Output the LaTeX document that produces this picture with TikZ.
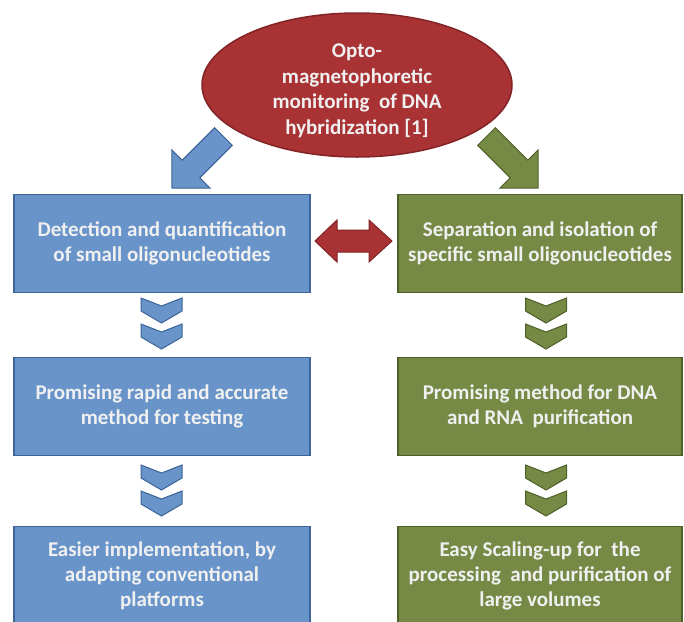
\documentclass[tikz,border=0pt]{standalone}
\usepackage{fontspec}
\setmainfont{Carlito}
\usetikzlibrary{shapes.geometric}
\definecolor{bluefill}{RGB}{104,148,202}
\definecolor{blueline}{RGB}{60,100,150}
\definecolor{greenfill}{RGB}{118,138,70}
\definecolor{greenline}{RGB}{78,96,40}
\definecolor{redfill}{RGB}{168,50,52}
\definecolor{redline}{RGB}{130,36,38}
\definecolor{txt}{RGB}{240,240,240}
\tikzset{
  boxtext/.style={text=txt, align=center, font=\fontsize{21}{25}\selectfont\bfseries},
  bluebox/.style={boxtext, rectangle, fill=bluefill, draw=blueline, line width=1.5pt, minimum width=296pt, minimum height=98pt, inner sep=0pt},
  greenbox/.style={boxtext, rectangle, fill=greenfill, draw=greenline, line width=1.5pt, minimum width=284pt, minimum height=98pt, inner sep=0pt},
  blueshape/.style={fill=bluefill, draw=blueline, line width=1pt, line join=miter},
  greenshape/.style={fill=greenfill, draw=greenline, line width=1pt, line join=miter},
  redshape/.style={fill=redfill, draw=redline, line width=1pt, line join=miter},
  chev/.pic={\path[pic actions] (-20.5,0) -- (0,8) -- (20.5,0) -- (20.5,13) -- (0,25) -- (-20.5,13) -- cycle;}
}
\begin{document}
\begin{tikzpicture}[x=1pt,y=-1pt]
\useasboundingbox (0,0) rectangle (684,621);
\clip (0,0) rectangle (684,621);
% block arrows from the ellipse
\path[blueshape] (214.7,127.7) -- (182.1,160.2) -- (171.9,149.9) -- (171.9,188.1) -- (210.1,188.1) -- (199.8,177.9) -- (232.3,145.3) -- cycle;
\path[greenshape] (495.3,127.7) -- (527.9,160.2) -- (538.1,149.9) -- (538.1,188.1) -- (499.9,188.1) -- (510.2,177.9) -- (477.7,145.3) -- cycle;
% ellipse
\node[ellipse, fill=redfill, draw=redline, line width=1.5pt, minimum width=310pt, minimum height=144pt, inner sep=0pt] (top) at (357,85) {};
\node[text=txt, align=center, font=\fontsize{21}{25.5}\selectfont\bfseries] (toptext) at (357,91) {Opto-\\magnetophoretic\\monitoring\ \ of DNA\\hybridization [1]};
% boxes
\node[bluebox] (b1) at (162,243.5) {Detection and quantification\\of small oligonucleotides};
\node[bluebox] (b2) at (162,406.5) {Promising rapid and accurate\\method for testing};
\node[bluebox] (b3) at (162,575.5) {Easier implementation, by\\adapting conventional\\platforms};
\node[greenbox] (g1) at (540,243.5) {Separation and isolation of\\specific small oligonucleotides};
\node[greenbox] (g2) at (540,406.5) {Promising method for DNA\\and RNA\ \ purification};
\node[greenbox] (g3) at (540,575.5) {Easy Scaling-up for\ \ the\\processing\ \ and purification of\\large volumes};
% red double arrow
\path[redshape] (315,241) -- (337,220) -- (337,230) -- (369,230) -- (369,220) -- (392,241) -- (369,262) -- (369,252) -- (337,252) -- (337,262) -- cycle;
% chevrons
\pic[blueshape] at (161.5,298) {chev};
\pic[blueshape] at (161.5,324) {chev};
\pic[blueshape] at (161.5,465) {chev};
\pic[blueshape] at (161.5,491) {chev};
\pic[greenshape] at (546,298) {chev};
\pic[greenshape] at (546,324) {chev};
\pic[greenshape] at (546,465) {chev};
\pic[greenshape] at (546,491) {chev};
\end{tikzpicture}
\end{document}
